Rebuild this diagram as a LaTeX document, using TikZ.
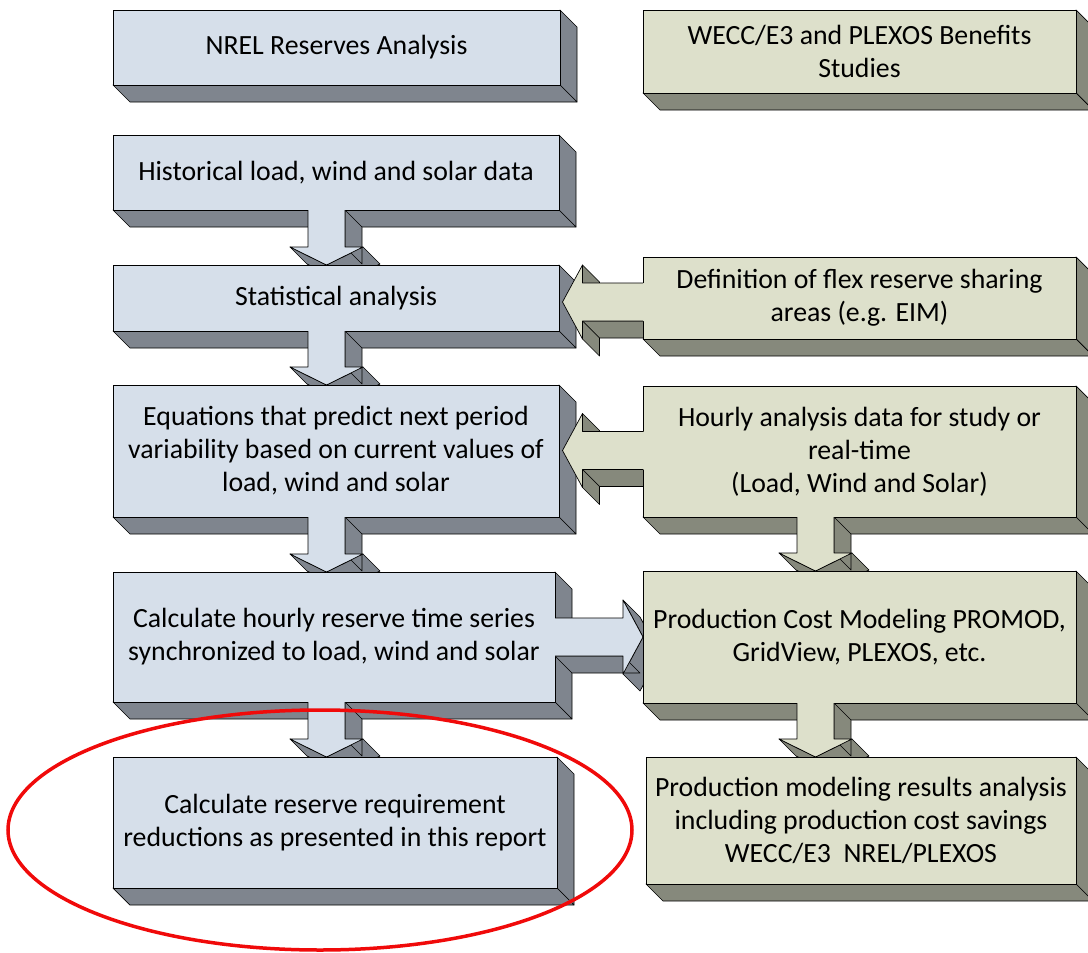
\documentclass[tikz,border=0pt]{standalone}
\usepackage{fontspec}
\setmainfont{Carlito}
\usetikzlibrary{calc}

\pgfdeclarelayer{sides}
\pgfdeclarelayer{arrowsides}
\pgfdeclarelayer{arrowfronts}
\pgfdeclarelayer{marks}
\pgfsetlayers{sides,arrowsides,main,arrowfronts,marks}

\definecolor{bluefront}{RGB}{214,223,234}
\definecolor{blueside}{RGB}{127,133,142}
\definecolor{greenfront}{RGB}{221,224,203}
\definecolor{greenside}{RGB}{134,137,124}
\definecolor{markred}{RGB}{240,10,10}

\newcommand{\boxfont}{\fontsize{27.8}{33}\selectfont}
\newcommand{\dep}{17}

\tikzset{
  front/.style={draw=black, line width=0.7pt, inner sep=0pt, outer sep=0pt,
    align=center, font=\boxfont, text=black},
  bluebox/.style={front, fill=bluefront},
  greenbox/.style={front, fill=greenfront},
  face/.style={draw=black, line width=0.7pt, line join=round},
}

% extruded right and bottom faces of a box node
\newcommand{\sidefaces}[2]{%
  \begin{pgfonlayer}{sides}
    \filldraw[face, fill=#2] (#1.north east) -- ($(#1.north east)+(\dep,\dep)$)
      -- ($(#1.south east)+(\dep,\dep)$) -- (#1.south east) -- cycle;
    \filldraw[face, fill=#2] (#1.south west) -- (#1.south east)
      -- ($(#1.south east)+(\dep,\dep)$) -- ($(#1.south west)+(\dep,\dep)$) -- cycle;
  \end{pgfonlayer}}

% block arrow pointing down: #1 upper box, #2 lower box, #3 column, #4 front, #5 side
\newcommand{\arrowdown}[5]{%
  \coordinate (p1) at ($(#3 |- #1.south)+(-18.5,0)$);
  \coordinate (p2) at ($(#3 |- #2.north)+(-18.5,-18)$);
  \coordinate (p3) at ($(#3 |- #2.north)+(-36.5,-18)$);
  \coordinate (p4) at (#3 |- #2.north);
  \coordinate (p5) at ($(#3 |- #2.north)+(36.5,-18)$);
  \coordinate (p6) at ($(#3 |- #2.north)+(18.5,-18)$);
  \coordinate (p7) at ($(#3 |- #1.south)+(18.5,0)$);
  \begin{pgfonlayer}{arrowsides}
    \filldraw[face, fill=#5] (p3) -- (p4) -- ($(p4)+(\dep,\dep)$) -- ($(p3)+(\dep,\dep)$) -- cycle;
    \filldraw[face, fill=#5] (p4) -- (p5) -- ($(p5)+(\dep,\dep)$) -- ($(p4)+(\dep,\dep)$) -- cycle;
    \filldraw[face, fill=#5] (p6) -- (p7) -- ($(p7)+(\dep,\dep)$) -- ($(p6)+(\dep,\dep)$) -- cycle;
  \end{pgfonlayer}
  \begin{pgfonlayer}{arrowfronts}
    \fill[#4] ($(p1)+(0,-1.5)$) -- (p2) -- (p3) -- (p4) -- (p5) -- (p6) -- ($(p7)+(0,-1.5)$) -- cycle;
    \draw[face] (p1) -- (p2) -- (p3) -- (p4) -- (p5) -- (p6) -- (p7);
  \end{pgfonlayer}}

% block arrow pointing left: #1 source box (right), #2 target box (left), #3 row
\newcommand{\arrowleft}[5]{%
  \coordinate (q0) at ($(#2.east |- #3)+(3.5,0)$);
  \coordinate (qu) at ($(q0)+(20,-37)$);
  \coordinate (q1) at ($(q0)+(20,-19)$);
  \coordinate (q2) at (#1.west |- q1);
  \coordinate (q3) at ($(#1.west |- q0)+(0,19)$);
  \coordinate (q4) at ($(q0)+(20,19)$);
  \coordinate (ql) at ($(q0)+(20,37)$);
  \begin{pgfonlayer}{arrowsides}
    \filldraw[face, fill=#5] (qu) -- (q1) -- ($(q1)+(\dep,\dep)$) -- ($(qu)+(\dep,\dep)$) -- cycle;
    \filldraw[face, fill=#5] (q3) -- (q4) -- ($(q4)+(\dep,\dep)$) -- ($(q3)+(\dep,\dep)$) -- cycle;
    \filldraw[face, fill=#5] (q4) -- (ql) -- ($(ql)+(\dep,\dep)$) -- ($(q4)+(\dep,\dep)$) -- cycle;
  \end{pgfonlayer}
  \begin{pgfonlayer}{arrowfronts}
    \fill[#4] (q0) -- (qu) -- (q1) -- ($(q2)+(1.5,0)$) -- ($(q3)+(1.5,0)$) -- (q4) -- (ql) -- cycle;
    \draw[face] (q2) -- (q1) -- (qu) -- (q0) -- (ql) -- (q4) -- (q3);
  \end{pgfonlayer}}

% block arrow pointing right: #1 source box (left), #2 target box (right), #3 row
\newcommand{\arrowright}[5]{%
  \coordinate (r0) at (#2.west |- #3);
  \coordinate (r1) at ($(#1.east |- #3)+(0,-19)$);
  \coordinate (r2) at ($(r0)+(-20,-19)$);
  \coordinate (r3) at ($(r0)+(-20,-37)$);
  \coordinate (r4) at ($(r0)+(-20,37)$);
  \coordinate (r5) at ($(r0)+(-20,19)$);
  \coordinate (r6) at ($(#1.east |- #3)+(0,19)$);
  \begin{pgfonlayer}{arrowsides}
    \filldraw[face, fill=#5] (r3) -- (r0) -- ($(r0)+(\dep,\dep)$) -- ($(r3)+(\dep,\dep)$) -- cycle;
    \filldraw[face, fill=#5] (r0) -- (r4) -- ($(r4)+(\dep,\dep)$) -- ($(r0)+(\dep,\dep)$) -- cycle;
    \filldraw[face, fill=#5] (r5) -- (r6) -- ($(r6)+(\dep,\dep)$) -- ($(r5)+(\dep,\dep)$) -- cycle;
  \end{pgfonlayer}
  \begin{pgfonlayer}{arrowfronts}
    \fill[#4] ($(r1)+(-1.5,0)$) -- (r2) -- (r3) -- (r0) -- (r4) -- (r5) -- ($(r6)+(-1.5,0)$) -- cycle;
    \draw[face] (r1) -- (r2) -- (r3) -- (r0) -- (r4) -- (r5) -- (r6);
  \end{pgfonlayer}}

\begin{document}
\begin{tikzpicture}[x=1pt, y=-1pt]
  \useasboundingbox (0,0) rectangle (1088,953);

  % left column: NREL reserves workflow
  \node[bluebox, minimum width=447pt, minimum height=75pt] (nrel) at (336.5,47.5)
    {NREL Reserves Analysis};
  \node[bluebox, minimum width=446pt, minimum height=75pt] (hist) at (336,172.5)
    {Historical load, wind and solar data};
  \node[bluebox, minimum width=446pt, minimum height=66pt] (stat) at (336,298)
    {Statistical analysis};
  \node[bluebox, minimum width=446pt, minimum height=132pt] (eqn) at (336,451)
    {Equations that predict next period\\variability based on current values of\\load, wind and solar};
  \node[bluebox, minimum width=442pt, minimum height=130pt] (calc) at (334,637)
    {Calculate hourly reserve time series\\synchronized to load, wind and solar};
  \node[bluebox, minimum width=444pt, minimum height=131pt] (req) at (335,822.5)
    {Calculate reserve requirement\\reductions as presented in this report};

  % right column: benefits studies
  \node[greenbox, minimum width=433pt, minimum height=83pt] (wecc) at (859.5,51.5)
    {WECC/E3 and PLEXOS Benefits\\Studies};
  \node[greenbox, minimum width=433pt, minimum height=82pt] (flex) at (859.5,298)
    {Definition of flex reserve sharing\\areas (e.g. EIM)};
  \node[greenbox, minimum width=433pt, minimum height=131pt] (hourly) at (859.5,451.5)
    {Hourly analysis data for study or\\real-time\\(Load, Wind and Solar)};
  \node[greenbox, minimum width=433pt, minimum height=132pt] (pcm) at (859.5,637)
    {Production Cost Modeling PROMOD,\\GridView, PLEXOS, etc.};
  \node[greenbox, minimum width=430pt, minimum height=127pt] (results) at (861,820.5)
    {Production modeling results analysis\\including production cost savings\\WECC/E3~~NREL/PLEXOS};

  \foreach \b in {nrel,hist,stat,eqn,calc,req} {\sidefaces{\b}{blueside}}
  \foreach \b in {wecc,flex,hourly,pcm,results} {\sidefaces{\b}{greenside}}

  % arrow columns and rows
  \coordinate (colL) at (326.5,0);
  \coordinate (colR) at (815.5,0);
  \coordinate (rowFlex) at (0,302);
  \coordinate (rowHourly) at (0,450.5);
  \coordinate (rowCalc) at (0,637);

  \arrowdown{hist}{stat}{colL}{bluefront}{blueside}
  \arrowdown{stat}{eqn}{colL}{bluefront}{blueside}
  \arrowdown{eqn}{calc}{colL}{bluefront}{blueside}
  \arrowdown{calc}{req}{colL}{bluefront}{blueside}
  \arrowdown{hourly}{pcm}{colR}{greenfront}{greenside}
  \arrowdown{pcm}{results}{colR}{greenfront}{greenside}
  \arrowleft{flex}{stat}{rowFlex}{greenfront}{greenside}
  \arrowleft{hourly}{eqn}{rowHourly}{greenfront}{greenside}
  \arrowright{calc}{pcm}{rowCalc}{bluefront}{blueside}

  % highlight ring round the final step
  \begin{pgfonlayer}{marks}
    \draw[markred, line width=3.5pt] (320,830) ellipse [x radius=312pt, y radius=120pt];
  \end{pgfonlayer}
\end{tikzpicture}
\end{document}
